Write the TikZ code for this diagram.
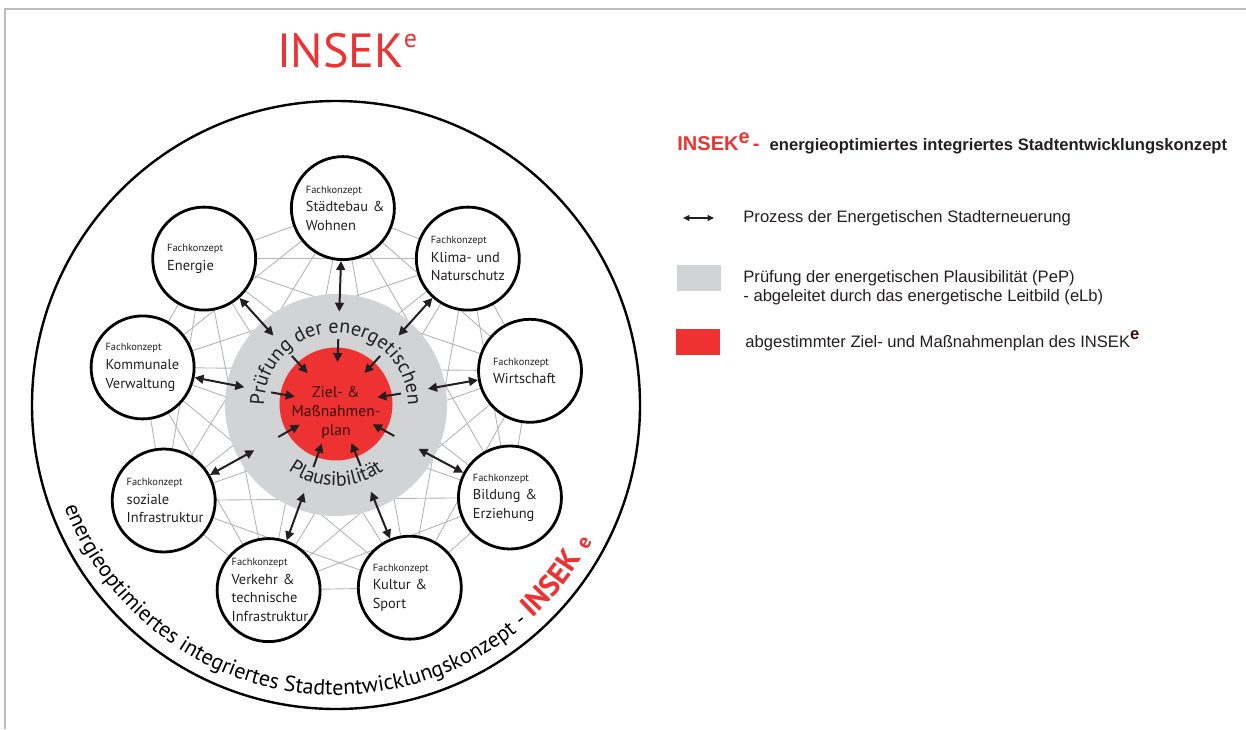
\documentclass[tikz,border=0pt]{standalone}
\usepackage{fontspec}
\setmainfont{PT Sans}
\newfontfamily\legfont{Liberation Sans}
\usetikzlibrary{arrows.meta,decorations.text}

\definecolor{insekred}{HTML}{EE3131}
\definecolor{pepgray}{HTML}{D1D3D4}
\definecolor{darktext}{HTML}{231F20}
\definecolor{webgray}{HTML}{B5B5B5}
\definecolor{framegray}{HTML}{BDBDBD}
\definecolor{plantext}{HTML}{3A0B0B}

\pgfdeclarelayer{background}
\pgfsetlayers{background,main}

\newcommand\fkhead{\fontsize{5.2}{9.3}\selectfont}
\newcommand\fkmain{\fontsize{7.2}{9.3}\selectfont}
\newcommand\ringtxt{\fontsize{10}{12}\selectfont\color{darktext}}
\newcommand\outertxt{\fontsize{11}{13}\selectfont\color{black}}
\newcommand\outerinsek{\fontsize{15}{17}\selectfont\bfseries\color{insekred}}
\newcommand\legtxt{\legfont\fontsize{8.3}{10}\selectfont\color{darktext}}

\begin{document}
\begin{tikzpicture}[x=0.5pt,y=0.5pt,>={Triangle[length=4.5pt,width=4.4pt]},
    fk/.style={circle,draw,line width=1.4pt,fill=white,minimum size=51.5pt,
      inner sep=0pt,text width=37pt,align=left,font=\fkmain,text=darktext},
    web/.style={draw=webgray,line width=0.45pt},
    pepa/.style={<->,line width=1pt,draw=darktext,shorten >=-9pt},
    ina/.style={->,line width=1pt,draw=darktext,shorten >=-7.5pt},
    legbox/.style={minimum width=22pt,minimum height=13pt,inner sep=0pt}]
  \useasboundingbox (0,0) rectangle (1246,729);
  % Rahmen
  \draw[framegray,line width=1.2pt] (1246,720) -- (5,720) -- (5,0);

  \node[text=insekred,font=\fontsize{24}{28}\selectfont,anchor=base] (title) at (347,661)
    {INSEK\raisebox{10pt}{\fontsize{13}{13}\selectfont e}};

  \begin{scope}[shift={(336,324)}]
    \draw[line width=1.2pt] (0,0) circle[radius=304];
    \node[circle,fill=pepgray,minimum size=111pt,inner sep=0pt] (pep) at (0,0) {};
    \node[circle,fill=insekred,minimum size=56.5pt,inner sep=0pt] (zmp) at (0,1) {};
    \node[text=plantext,align=center,font=\fontsize{7.8}{9.5}\selectfont] (zmptxt) at (0,-8) {Ziel- \&\\Maßnahmen-\\plan};

    % Fachkonzepte im Kreis
    \foreach \ang/\txt [count=\i] in {88/{Städtebau~\&\\Wohnen},48/{Klima-~und\\Naturschutz},
        10/{Wirtschaft},-28/{Bildung~\&\\Erziehung},-68/{Kultur~\&\\Sport},
        -110/{Verkehr~\&\\technische\\Infrastruktur},-151/{soziale\\Infrastruktur},
        169/{Kommunale\\Verwaltung},132/{Energie}}{
      \node[fk] (s\i) at (\ang:197) {{\fkhead Fachkonzept}\\\txt};
      \coordinate (a\i) at (\ang:66);
    }

    % Pfeile
    \foreach \i in {1,...,9}{
      \draw[pepa] (s\i) -- (pep);
      \draw[ina] (a\i) -- (zmp);
    }

    \path[decorate,decoration={text along path,text align=center,
        text={|\ringtxt|Prüfung der energetischen}}]
      (180:72) arc[start angle=180,end angle=0,radius=72];
    \path[decorate,decoration={text along path,text align=center,
        text={|\ringtxt|Plausibilität}}]
      (220:81) arc[start angle=220,end angle=320,radius=81];
    \path[decorate,decoration={text along path,text align=right,
        text={|\outertxt|energieoptimiertes integriertes Stadtentwicklungskonzept - |\outerinsek|INSEK}}]
      (150:290) arc[start angle=150,end angle=328,radius=290];
    \node[rotate=62,text=insekred,font=\fontsize{10.5}{12}\selectfont\bfseries] (insE) at (-29:285) {e};
  \end{scope}

  % Netz
  \begin{pgfonlayer}{background}
    \foreach \i in {1,...,8}{
      \pgfmathtruncatemacro\nx{\i+1}
      \foreach \j in {\nx,...,9} \draw[web] (s\i) -- (s\j);
    }
  \end{pgfonlayer}

  % Legende
  \node[anchor=base west,inner sep=0pt,font=\legtxt\bfseries] (leghead) at (677,578)
    {{\color{insekred}\fontsize{10}{12}\selectfont INSEK\raisebox{3.5pt}{e}\,-}\hspace{5pt}energieoptimiertes integriertes Stadtentwicklungskonzept};
  \coordinate (la) at (683,511);
  \coordinate (lb) at (714,511);
  \draw[{Triangle[length=3.2pt,width=3pt]}-{Triangle[length=3.2pt,width=3pt]},line width=0.6pt,darktext] (la) -- (lb);
  \node[anchor=base west,inner sep=0pt,font=\legtxt] (legproz) at (743,506) {Prozess der Energetischen Stadterneuerung};
  \node[legbox,fill=pepgray] (leggray) at (699,451) {};
  \node[anchor=base west,inner sep=0pt,font=\legtxt] (legpep) at (743,446) {Prüfung der energetischen Plausibilität (PeP)};
  \node[anchor=base west,inner sep=0pt,font=\legtxt] (legpepb) at (743,427) {- abgeleitet durch das energetische Leitbild (eLb)};
  \node[legbox,fill=insekred] (legred) at (698,387) {};
  \node[anchor=base west,inner sep=0pt,font=\legtxt] (legplan) at (745,381) {abgestimmter Ziel- und Maßnahmenplan des INSEK\raisebox{4pt}{\textbf{\color{plantext}e}}};
\end{tikzpicture}
\end{document}
